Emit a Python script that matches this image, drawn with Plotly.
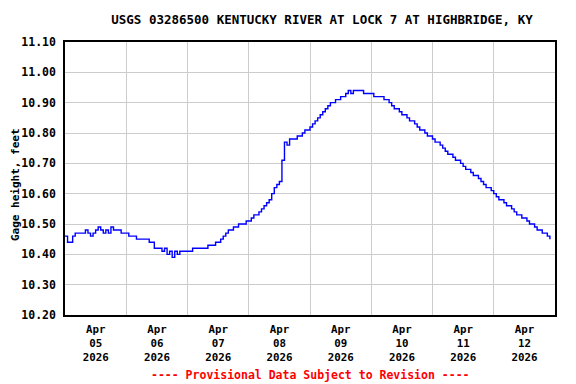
import pandas as pd
import plotly.graph_objects as go

# Hourly gage height readings starting Apr 05 2026 00:00
start_time = "2026-04-05 00:00"
gage_height = [
    10.46, 10.44, 10.44, 10.46, 10.47, 10.47, 10.47, 10.47, 10.48, 10.47,
    10.46, 10.47, 10.48, 10.49, 10.48, 10.47, 10.48, 10.47, 10.49, 10.48,
    10.48, 10.48, 10.47, 10.47, 10.47, 10.46, 10.46, 10.46, 10.45, 10.45,
    10.45, 10.45, 10.45, 10.44, 10.44, 10.42, 10.42, 10.42, 10.41, 10.42,
    10.40, 10.41, 10.39, 10.41, 10.40, 10.41, 10.41, 10.41, 10.41, 10.41,
    10.42, 10.42, 10.42, 10.42, 10.42, 10.42, 10.43, 10.43, 10.43, 10.44,
    10.44, 10.45, 10.46, 10.47, 10.48, 10.48, 10.49, 10.49, 10.50, 10.50,
    10.50, 10.51, 10.51, 10.52, 10.53, 10.53, 10.54, 10.55, 10.56, 10.57,
    10.58, 10.60, 10.62, 10.63, 10.64, 10.71, 10.77, 10.76, 10.78, 10.78,
    10.78, 10.79, 10.79, 10.80, 10.81, 10.81, 10.82, 10.83, 10.84, 10.85,
    10.86, 10.87, 10.88, 10.89, 10.90, 10.90, 10.91, 10.91, 10.92, 10.92,
    10.93, 10.94, 10.93, 10.94, 10.94, 10.94, 10.94, 10.93, 10.93, 10.93,
    10.93, 10.92, 10.92, 10.92, 10.92, 10.91, 10.91, 10.90, 10.89, 10.88,
    10.88, 10.87, 10.86, 10.86, 10.85, 10.84, 10.84, 10.83, 10.82, 10.81,
    10.81, 10.80, 10.79, 10.79, 10.78, 10.77, 10.77, 10.76, 10.75, 10.74,
    10.73, 10.73, 10.72, 10.71, 10.71, 10.70, 10.69, 10.68, 10.68, 10.67,
    10.66, 10.66, 10.65, 10.64, 10.63, 10.62, 10.62, 10.61, 10.60, 10.59,
    10.58, 10.58, 10.57, 10.56, 10.56, 10.55, 10.54, 10.53, 10.53, 10.52,
    10.52, 10.51, 10.50, 10.50, 10.49, 10.48, 10.48, 10.47, 10.47, 10.46,
    10.45,
]
times = pd.date_range(start_time, periods=len(gage_height), freq="h")

day_label_positions = pd.date_range("2026-04-05 12:00", periods=8, freq="D")
day_labels = ["Apr<br>05<br>2026", "Apr<br>06<br>2026", "Apr<br>07<br>2026",
              "Apr<br>08<br>2026", "Apr<br>09<br>2026", "Apr<br>10<br>2026",
              "Apr<br>11<br>2026", "Apr<br>12<br>2026"]
y_ticks = [10.20, 10.30, 10.40, 10.50, 10.60, 10.70, 10.80, 10.90, 11.00, 11.10]
y_tick_labels = ["10.20", "10.30", "10.40", "10.50", "10.60", "10.70",
                 "10.80", "10.90", "11.00", "11.10"]

title_text = "USGS 03286500 KENTUCKY RIVER AT LOCK 7 AT HIGHBRIDGE, KY"
y_title = "Gage height, feet"
footer = "---- Provisional Data Subject to Revision ----"

FONT = "DejaVu Sans Mono"
fnt = dict(family=FONT, size=11.5, color="black", weight="bold")
xfnt = dict(family=FONT, size=10.8, color="black", weight="bold")

# page body has an 8px margin; figure is sized/positioned to compensate
W, H = 568, 376
L, R, T, B = 57, 21, 34, 69
plot_w = W - L - R
plot_h = H - T - B

fig = go.Figure()
fig.add_trace(go.Scatter(x=times, y=gage_height, mode="lines",
                         line=dict(color="#0000ff", width=1.4, shape="hv"),
                         hoverinfo="x+y", showlegend=False))

fig.update_layout(
    width=W, height=H,
    margin=dict(l=L, r=R, t=T, b=B),
    paper_bgcolor="white", plot_bgcolor="white",
    title=dict(text=title_text, x=314 / W, xanchor="center",
               y=1 - 12 / H, yanchor="middle",
               font=dict(family=FONT, size=12.5, color="black", weight="bold")),
    font=fnt,
)

fig.update_xaxes(
    range=[pd.Timestamp("2026-04-05 00:00"), pd.Timestamp("2026-04-13 00:00")],
    tickmode="array", tickvals=day_label_positions, ticktext=day_labels,
    showgrid=False, ticks="", tickfont=xfnt, automargin=False,
    ticklabelstandoff=3,
    showline=True, linecolor="black", linewidth=1.5, mirror=True,
    zeroline=False,
    minor=dict(tickmode="array",
               tickvals=pd.date_range("2026-04-06", periods=7, freq="D"),
               showgrid=True, gridcolor="#cccccc", gridwidth=1, ticks=""),
)
fig.update_yaxes(
    range=[10.20, 11.10], tickmode="array", tickvals=y_ticks, ticktext=y_tick_labels,
    showgrid=True, gridcolor="#cccccc", gridwidth=1, ticks="outside", ticklen=5,
    tickcolor="rgba(0,0,0,0)", tickfont=fnt, automargin=False,
    showline=True, linecolor="black", linewidth=1.5, mirror=True, zeroline=False,
)

fig.add_annotation(text=y_title, textangle=-90, xref="paper", yref="paper",
                   x=(7 - L) / plot_w, y=1 - (177 - T) / plot_h,
                   xanchor="center", yanchor="middle", showarrow=False,
                   font=dict(family=FONT, size=11, color="black", weight="bold"))

fig.add_annotation(text=footer, xref="paper", yref="paper",
                   x=0.5, y=-(367 - (T + plot_h)) / plot_h,
                   xanchor="center", yanchor="middle", showarrow=False,
                   font=dict(family=FONT, size=11.5, color="#ff0000", weight="bold"))

fig.write_html("out.html")
